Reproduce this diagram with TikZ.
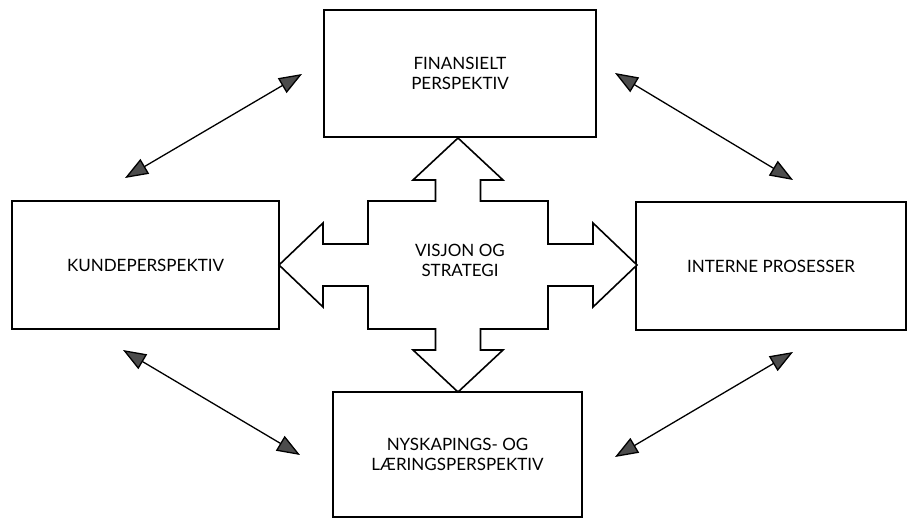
\documentclass[tikz,border=0pt]{standalone}
\usepackage{fontspec}
\setmainfont{Lato}
\usetikzlibrary{arrows.meta}
\begin{document}
\begin{tikzpicture}[x=1pt,y=-1pt,
  perspbox/.style={draw=black,line width=1.7pt,fill=white,inner sep=0pt,
    align=center,font=\fontsize{17}{20}\selectfont,text=black},
  linkarrow/.style={line width=1.3pt,draw=black,{Triangle[length=23pt,width=17pt,fill=black!70]}-{Triangle[length=23pt,width=17pt,fill=black!70]}},
  crossshape/.style={draw=black,line width=1.6pt,fill=white,line join=miter},
  centrelabel/.style={align=center,font=\fontsize{17}{20}\selectfont,text=black}]
\useasboundingbox (0,0) rectangle (918,520);

% the four perspective boxes
\node[perspbox,minimum width=272pt,minimum height=127pt] (fin) at (460,73.5) {FINANSIELT\\PERSPEKTIV};
\node[perspbox,minimum width=267pt,minimum height=128pt] (kunde) at (145.5,265) {KUNDEPERSPEKTIV};
\node[perspbox,minimum width=270pt,minimum height=128pt] (intern) at (771,266) {INTERNE PROSESSER};
\node[perspbox,minimum width=249pt,minimum height=125pt] (nysk) at (457.5,454.5) {NYSKAPINGS- OG\\LÆRINGSPERSPEKTIV};

% centre: four-way block arrow
\begin{scope}[shift={(458,265)}]
\draw[crossshape]
  (0,-127) -- (45,-85) -- (22.5,-85) -- (22.5,-64) -- (90,-64) -- (90,-21)
  -- (135,-21) -- (135,-42) -- (179,0) -- (135,42) -- (135,21) -- (90,21)
  -- (90,64) -- (22.5,64) -- (22.5,85) -- (45,85) -- (0,127) -- (-45,85)
  -- (-22.5,85) -- (-22.5,64) -- (-90,64) -- (-90,21) -- (-135,21)
  -- (-135,42) -- (-179,0) -- (-135,-42) -- (-135,-21) -- (-90,-21)
  -- (-90,-64) -- (-22.5,-64) -- (-22.5,-85) -- (-45,-85) -- cycle;
\end{scope}
\node[centrelabel] (vision) at (460,260) {VISJON OG\\STRATEGI};

% double-headed links between neighbouring perspectives
\coordinate (tlA) at (125,178);
\coordinate (tlB) at (302,74);
\coordinate (trA) at (615,73);
\coordinate (trB) at (793,180);
\coordinate (blA) at (123,350);
\coordinate (blB) at (300,455);
\coordinate (brA) at (615,457);
\coordinate (brB) at (793,352);
\draw[linkarrow] (tlA) -- (tlB);
\draw[linkarrow] (trA) -- (trB);
\draw[linkarrow] (blA) -- (blB);
\draw[linkarrow] (brA) -- (brB);
\end{tikzpicture}
\end{document}
